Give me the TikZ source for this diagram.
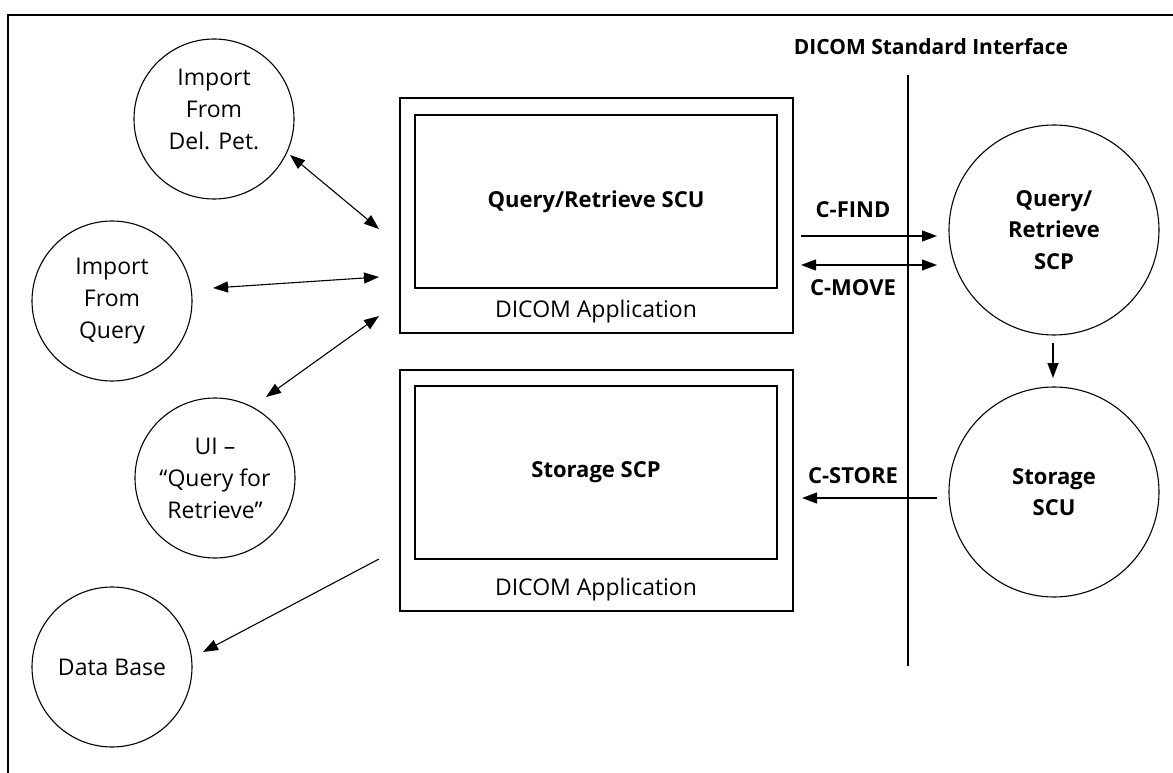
\documentclass[tikz,border=0pt]{standalone}
\usepackage{fontspec}
\setmainfont{Open Sans}
\usetikzlibrary{arrows.meta}
\begin{document}
\begin{tikzpicture}[x=1pt,y=-1pt,line width=1.1pt,
  circ/.style={draw,circle,minimum size=160pt,inner sep=0pt,align=center,font=\fontsize{23}{32}\selectfont},
  bigcirc/.style={draw,circle,minimum size=210pt,inner sep=0pt,align=center,font=\bfseries\fontsize{22}{31.5}\selectfont},
  outerbox/.style={draw,rectangle,minimum width=393pt,inner sep=0pt},
  innerbox/.style={draw,rectangle,minimum width=362pt,minimum height=173pt,inner sep=0pt,font=\bfseries\fontsize{22}{31.5}\selectfont},
  plain/.style={inner sep=0pt,align=center,font=\fontsize{23}{32}\selectfont},
  boldlbl/.style={inner sep=0pt,font=\bfseries\fontsize{22}{31.5}\selectfont},
  headlbl/.style={inner sep=0pt,font=\bfseries\fontsize{21}{31.5}\selectfont},
  tip/.tip={Triangle[length=15pt,width=11pt]},
  arr/.style={-tip},
  dbl/.style={tip-tip}
]
\useasboundingbox (0,0) rectangle (1173,773);
% frame
\coordinate (frTR) at (1173,15);
\coordinate (frTL) at (8,15);
\coordinate (frBL) at (8,773);
\draw (frTR) -- (frTL) -- (frBL);
% interface line
\coordinate (ifTop) at (908,75);
\coordinate (ifBot) at (908,666);
\draw (ifTop) -- (ifBot);
\node[headlbl] (iflabel) at (931,47) {DICOM Standard Interface};

% left circles
\node[circ] (delpet) at (214,119) {};
\node[plain] (delpettxt) at (214,109.5) {Import\\From\\Del. Pet.};
\node[circ] (impq) at (112,301) {Import\\From\\Query};
\node[circ] (ui) at (215,478) {UI –\\“Query for\\Retrieve”};
\node[circ] (db) at (112,667) {Data Base};

% right circles
\node[bigcirc] (qrscp) at (1054,230) {Query/\\Retrieve\\SCP};
\node[bigcirc] (stscu) at (1054,492) {Storage\\SCU};

% boxes
\node[outerbox,minimum height=235pt] (app1) at (596.5,215.5) {};
\node[innerbox] (qrscu) at (596,201.5) {Query/Retrieve SCU};
\node[plain] (app1lbl) at (596,312) {DICOM Application};
\node[outerbox,minimum height=241pt] (app2) at (596.5,490.5) {};
\node[innerbox] (stscp) at (596,472.5) {Storage SCP};
\node[plain] (app2lbl) at (596,590) {DICOM Application};

% left arrows
\coordinate (a1s) at (290,155);
\coordinate (a1e) at (379,229);
\draw[dbl] (a1s) -- (a1e);
\coordinate (a2s) at (213,288);
\coordinate (a2e) at (379,277);
\draw[dbl] (a2s) -- (a2e);
\coordinate (a3s) at (266,397);
\coordinate (a3e) at (379,316);
\draw[dbl] (a3s) -- (a3e);
\coordinate (a4s) at (379,559);
\coordinate (a4e) at (203,652);
\draw[arr] (a4s) -- (a4e);

% DIMSE arrows
\coordinate (cfs) at (801,236);
\coordinate (cfe) at (937,236);
\draw[arr] (cfs) -- (cfe);
\node[boldlbl] (cfind) at (853,210) {C-FIND};
\coordinate (cms) at (801,265);
\coordinate (cme) at (937,265);
\draw[dbl] (cms) -- (cme);
\node[boldlbl] (cmove) at (853,288) {C-MOVE};
\coordinate (css) at (937,498);
\coordinate (cse) at (802,498);
\draw[arr] (css) -- (cse);
\node[boldlbl] (cstore) at (853,476) {C-STORE};

% SCP -> SCU
\coordinate (vs) at (1053,343);
\coordinate (ve) at (1053,378);
\draw[arr] (vs) -- (ve);
\end{tikzpicture}
\end{document}
